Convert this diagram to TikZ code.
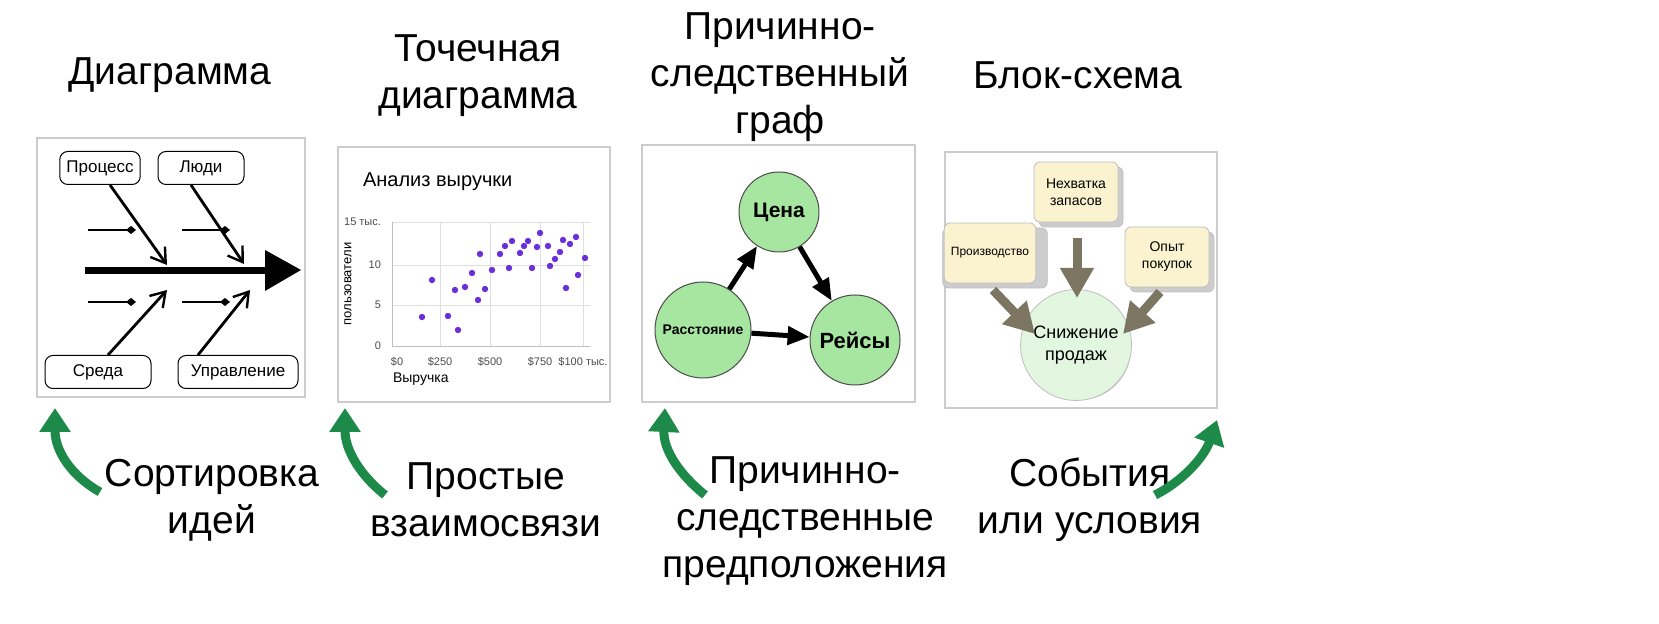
\documentclass[tikz,border=0pt]{standalone}
\usepackage{fontspec}
\setmainfont{Liberation Sans}
\usetikzlibrary{arrows.meta,shapes.geometric}

\definecolor{curvegreen}{HTML}{1E8A4A}
\definecolor{nodegreen}{HTML}{A6E6A0}
\definecolor{palegreen}{HTML}{E2F6E0}
\definecolor{cream}{HTML}{FBF2D0}
\definecolor{olive}{HTML}{7B7562}
\definecolor{dotviolet}{HTML}{6A2FD8}

\tikzset{
  title/.style = {font=\fontsize{19.5}{23.5}\selectfont, align=center},
  panel/.style = {draw=gray!40, fill=white, line width=0.6pt},
  bone box/.style = {draw, rounded corners=4pt, line width=0.5pt, fill=white,
    minimum width=#1, minimum height=16.5pt, font=\fontsize{8.5}{10}\selectfont},
  bone/.style = {line width=1.4pt, -{Straight Barb[length=7pt,width=9pt,line width=1.2pt]}},
  tick/.style = {line width=0.6pt, -{Diamond[length=5pt,width=4pt]}},
  cause/.style = {circle, draw=black!70, fill=nodegreen, line width=0.5pt, font=\bfseries},
  push/.style = {line width=2.5pt, -{Triangle[length=11pt,width=9pt]}},
  event/.style = {draw=gray!50, fill=cream, rounded corners=3pt, align=center,
    font=\fontsize{7}{8.5}\selectfont, minimum width=42pt, minimum height=30pt},
  flow/.style = {line width=4.5pt, olive, -{Triangle[length=15pt,width=16pt]}},
  hint/.style = {line width=4.5pt, curvegreen, -{Triangle[length=12pt,width=15pt]}},
}

\begin{document}
\begin{tikzpicture}[x=0.5pt, y=-0.5pt]
\useasboundingbox (0,0) rectangle (1659,624);

% titles
\node[title] (t1) at (170,75) {Диаграмма};
\node[title] (t2) at (478,76) {Точечная\\диаграмма};
\node[title] (t3) at (780,77) {Причинно-\\следственный\\граф};
\node[title] (t4) at (1078,75) {Блок-схема};

% panels
\draw[panel] (37,138) rectangle (305,397);
\draw[panel] (338,147) rectangle (610,402);
\draw[panel] (642,145) rectangle (915,402);
\draw[panel] (945,152) rectangle (1217,408);

% fishbone
\coordinate (tail) at (85,271);
\coordinate (head) at (268,271);
\draw[line width=3.5pt] (tail) -- (head);
\fill (265,250) -- (301,270) -- (265,291) -- cycle;
\node[bone box=38pt] (proc) at (100,168) {Процесс};
\node[bone box=43pt] (ppl) at (201,168) {Люди};
\node[bone box=53pt] (env) at (98,372) {Среда};
\node[bone box=60pt] (mgmt) at (238,372) {Управление};
\coordinate (j1) at (167,265);
\coordinate (j2) at (244,264);
\coordinate (j3) at (167,290);
\coordinate (j4) at (250,290);
\draw[bone] (proc.south) ++(10,0) -- (j1);
\draw[bone] (ppl.south) ++(-10,0) -- (j2);
\draw[bone] (env.north) ++(10,0) -- (j3);
\draw[bone] (mgmt.north) ++(-40,0) -- (j4);
\draw[tick] (88,230) -- (136,230);
\draw[tick] (182,230) -- (230,230);
\draw[tick] (88,302) -- (136,302);
\draw[tick] (182,302) -- (230,302);

% scatter plot
\node[anchor=west, font=\fontsize{10}{12}\selectfont] (stitle) at (356,182) {Анализ выручки};
\foreach \y in {222,265,305,346} \draw[gray!25] (392,\y) -- (590,\y);
\foreach \x in {440,490,540,583} \draw[gray!25] (\x,222) -- (\x,346);
\draw[gray!50] (392,222) -- (392,346) -- (590,346);
\foreach \lab/\y in {15 тыс./222,10/265,5/305,0/346}
  \node[anchor=east, gray!60!black, font=\fontsize{5.5}{6.5}\selectfont] at (388,\y) {\lab};
\foreach \lab/\x in {\$0/397,\$250/440,\$500/490,\$750/540,\$100 тыс./583}
  \node[gray!60!black, font=\fontsize{5.5}{6.5}\selectfont] at (\x,362) {\lab};
\node[anchor=west, font=\fontsize{7}{8}\selectfont] (xlab) at (386,379) {Выручка};
\node[rotate=90, font=\fontsize{6.5}{7.5}\selectfont] (ylab) at (348,284) {пользователи};
\foreach \x/\y in {422/317,432/280,448/316,458/330,455/290,465/287,472/273,478/300,
  480/254,485/289,492/270,500/254,505/246,509/268,512/241,520/253,524/246,528/241,
  532/268,537/247,540/233,548/246,550/266,555/259,560/252,563/240,566/288,570/244,
  576/237,578/275,585/258}
  \fill[dotviolet] (\x,\y) circle[radius=3.2];

% causal graph
\node[cause, minimum size=40pt, font=\bfseries\fontsize{10.5}{12}\selectfont] (price) at (779,212) {Цена};
\node[cause, minimum size=48pt, font=\bfseries\fontsize{7}{8}\selectfont, inner sep=0pt] (dist) at (703,330) {Расстояние};
\node[cause, minimum size=45pt, font=\bfseries\fontsize{11}{12}\selectfont] (flights) at (855,340) {Рейсы};
\draw[push] (dist) -- (price);
\draw[push] (price) -- (flights);
\draw[push] (dist) -- (flights);

% flowchart
\node[event, fill=gray!40, xshift=2pt, yshift=-2pt] at (1077,193) {\phantom{Нехватка}\\\phantom{запасов}};
\node[event] (stock) at (1076,192) {Нехватка\\запасов};
\node[event, fill=gray!40, xshift=2pt, yshift=-2pt] at (991,254) {\phantom{Производство}};
\node[event, font=\fontsize{6}{7}\selectfont] (prod) at (990,253) {Производство};
\node[event, fill=gray!40, xshift=2pt, yshift=-2pt] at (1168,258) {\phantom{Опыт}\\\phantom{покупок}};
\node[event] (exp) at (1167,257) {Опыт\\покупок};
\fill[gray!40] (1080,349) circle[radius=51];
\node[circle, draw=gray!50, fill=palegreen, minimum size=51pt, align=center,
  font=\fontsize{9}{11}\selectfont] (drop) at (1076,345) {Снижение\\продаж};
\draw[flow] (1077,238) -- (1077,298);
\draw[flow] (993,290) -- (1035,334);
\draw[flow] (1160,292) -- (1123,334);

% bottom captions
\node[title] (c1) at (212,500) {Сортировка\\идей};
\node[title] (c2) at (486,500) {Простые\\взаимосвязи};
\node[title] (c3) at (805,521) {Причинно-\\следственные\\предположения};
\node[title] (c4) at (1090,500) {События\\или условия};

% green hints
\coordinate (g1) at (55,408);
\coordinate (g2) at (345,408);
\coordinate (g3) at (665,408);
\coordinate (g4) at (1217,420);
\draw[hint] (100,492) .. controls (70,475) and (55,450) .. (g1);
\draw[hint] (385,495) .. controls (360,475) and (345,450) .. (g2);
\draw[hint] (705,495) .. controls (680,475) and (663,450) .. (g3);
\draw[hint] (1155,495) .. controls (1185,480) and (1205,455) .. (g4);
\end{tikzpicture}
\end{document}
